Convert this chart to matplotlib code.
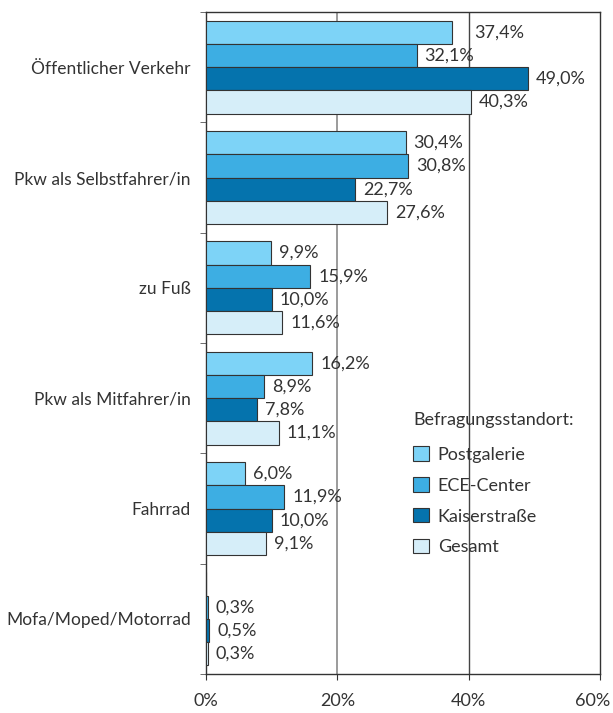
import matplotlib
matplotlib.use("Agg")
import matplotlib.pyplot as plt
import numpy as np

plt.rcParams['font.family'] = ['Lato', 'DejaVu Sans']

categories = ["Öffentlicher Verkehr", "Pkw als Selbstfahrer/in", "zu Fuß",
              "Pkw als Mitfahrer/in", "Fahrrad", "Mofa/Moped/Motorrad"]
series = ["Postgalerie", "ECE-Center", "Kaiserstraße", "Gesamt"]
postgalerie = [37.4, 30.4, 9.9, 16.2, 6.0, 0.0]
ece_center = [32.1, 30.8, 15.9, 8.9, 11.9, 0.3]
kaiserstrasse = [49.0, 22.7, 10.0, 7.8, 10.0, 0.5]
gesamt = [40.3, 27.6, 11.6, 11.1, 9.1, 0.3]
xticks = [0, 20, 40, 60]

colors = ["#7dd3f7", "#3daee3", "#0573ad", "#d6eef9"]
text_col = "#333333"
fs = 13

fig = plt.figure(figsize=(6.13, 7.13), dpi=100)
ax = fig.add_axes([206 / 613, 1 - 674 / 713, 394 / 613, 662 / 713])

bh = 0.211
y = np.arange(len(categories))
values = [postgalerie, ece_center, kaiserstrasse, gesamt]
for k, (name, vals, c) in enumerate(zip(series, values, colors)):
    yy = y + (k - 1.5) * bh
    ax.barh(yy, vals, height=bh, color=c, edgecolor="#333333", linewidth=0.8,
            label=name, zorder=3)
    for yi, v in zip(yy, vals):
        if v <= 0:
            continue
        start = v + 1.2
        # push label past a gridline it would run over
        for g in (20, 40):
            if v < g < start + 1.5:
                start = g + 0.9
        ax.text(start, yi, f"{v:.1f}%".replace(".", ","), va="center", ha="left",
                fontsize=fs, color=text_col, zorder=4)

ax.set_xlim(0, 60)
ax.set_ylim(len(categories) - 0.5, -0.5)
ax.set_xticks(xticks)
tick_labels = [f"{t}%" for t in xticks]
# last label sits at the figure edge: draw it by hand, nudged inwards
ax.set_xticklabels(tick_labels[:-1] + [""], fontsize=fs, color=text_col)
ax.annotate(tick_labels[-1], xy=(xticks[-1], 0),
            xycoords=ax.get_xaxis_transform(), xytext=(-5, -14),
            textcoords="offset points", ha="center", va="top",
            fontsize=fs, color=text_col)
ax.set_yticks(y)
ax.set_yticklabels(categories, fontsize=12.5, color=text_col)
ax.set_yticks(np.arange(-0.5, len(categories)), minor=True)
ax.tick_params(axis="y", which="major", length=0, pad=11)
ax.tick_params(axis="y", which="minor", length=4.5, color="#555555", direction="out")
ax.tick_params(axis="x", length=4, color="#333333", direction="out", pad=10)
ax.axvline(20, color="#8a8a8a", linewidth=1.2, zorder=1)
ax.axvline(40, color="#444444", linewidth=1.0, zorder=1)
for s in ax.spines.values():
    s.set_color("#333333")
    s.set_linewidth(1.0)

leg = ax.legend(title="Befragungsstandort:", loc="upper left",
                bbox_to_anchor=(0.485, 0.42), frameon=False, fontsize=fs,
                title_fontsize=fs, handlelength=0.85, handleheight=0.85,
                handletextpad=0.5, labelspacing=0.8, alignment="left")
leg._legend_box.sep = 13
for t in leg.get_texts():
    t.set_color(text_col)
leg.get_title().set_color(text_col)

fig.savefig("out.png", dpi=100)
